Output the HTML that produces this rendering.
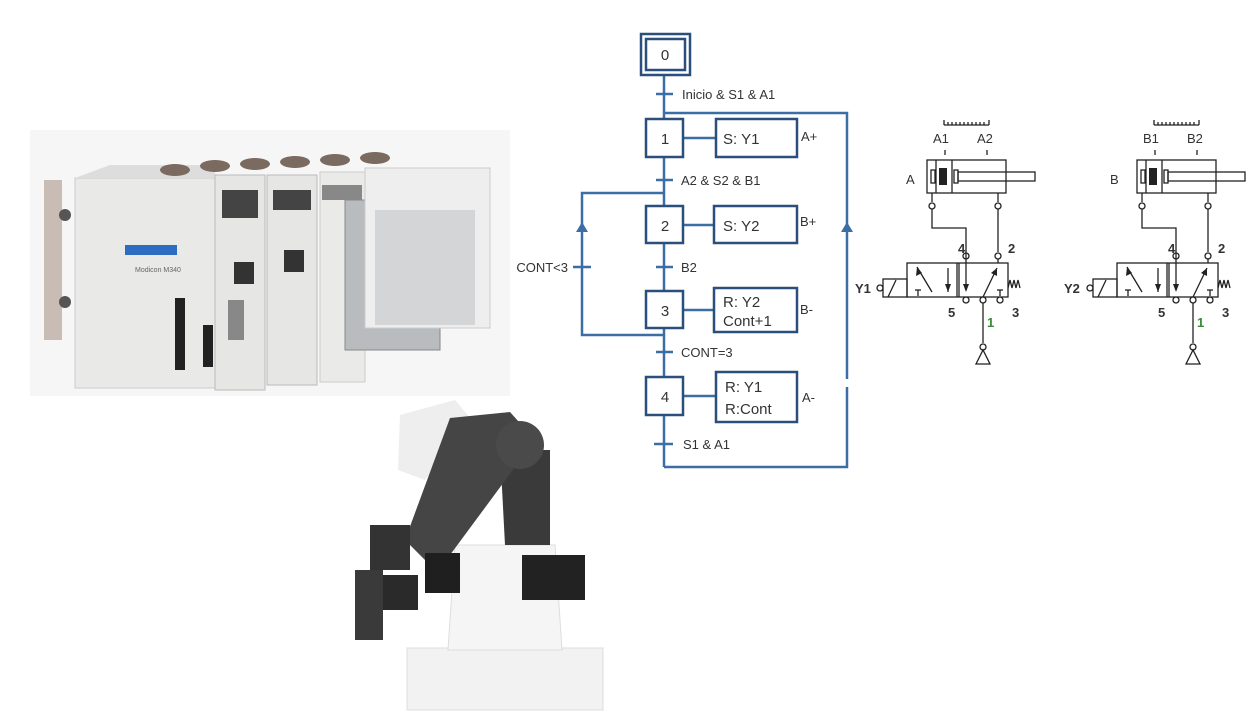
<!DOCTYPE html>
<html><head><meta charset="utf-8"><style>
html,body{margin:0;padding:0;background:#fff;}
svg{display:block;}
text{font-family:"Liberation Sans",sans-serif;}
</style></head><body>
<svg width="1251" height="727" viewBox="0 0 1251 727" xmlns="http://www.w3.org/2000/svg">
<rect width="1251" height="727" fill="#fff"/>
<!-- PLC image -->
<rect x="30" y="130" width="480" height="266" fill="#f6f6f6"/>
<rect x="44" y="180" width="18" height="160" fill="#c9bcb4"/>
<circle cx="65" cy="215" r="6" fill="#555"/><circle cx="65" cy="302" r="6" fill="#555"/>
<rect x="75" y="178" width="140" height="210" fill="#e9e9e7" stroke="#ccc"/>
<polygon points="75,178 110,165 215,165 215,178" fill="#ddd"/>
<rect x="125" y="245" width="52" height="10" fill="#2d6cc0"/>
<text x="135" y="272" font-size="7" fill="#666">Modicon M340</text>
<rect x="175" y="298" width="10" height="72" fill="#222"/>
<rect x="203" y="325" width="10" height="42" fill="#222"/>
<rect x="215" y="175" width="50" height="215" fill="#e6e6e4" stroke="#bbb"/>
<rect x="222" y="190" width="36" height="28" fill="#444"/>
<rect x="234" y="262" width="20" height="22" fill="#333"/>
<rect x="228" y="300" width="16" height="40" fill="#888"/>
<rect x="267" y="175" width="50" height="210" fill="#e6e6e4" stroke="#bbb"/>
<rect x="273" y="190" width="38" height="20" fill="#444"/>
<rect x="284" y="250" width="20" height="22" fill="#333"/>
<rect x="320" y="172" width="45" height="210" fill="#eaeae8" stroke="#ccc"/>
<rect x="322" y="185" width="40" height="15" fill="#888"/>
<rect x="345" y="200" width="95" height="150" fill="#b9bcbf" stroke="#888"/>
<rect x="365" y="168" width="125" height="160" fill="#eeeeee" stroke="#ccc"/>
<rect x="375" y="210" width="100" height="115" fill="#c9cacc" opacity="0.7"/>
<g fill="#7a6a60"><ellipse cx="175" cy="170" rx="15" ry="6"/><ellipse cx="215" cy="166" rx="15" ry="6"/><ellipse cx="255" cy="164" rx="15" ry="6"/><ellipse cx="295" cy="162" rx="15" ry="6"/><ellipse cx="335" cy="160" rx="15" ry="6"/><ellipse cx="375" cy="158" rx="15" ry="6"/></g>
<!-- Robot -->
<rect x="407" y="648" width="196" height="62" fill="#f2f2f2" stroke="#ddd"/>
<polygon points="448,650 455,545 555,545 562,650" fill="#f5f5f5" stroke="#ddd"/>
<polygon points="400,415 455,400 472,420 425,480 398,470" fill="#eeeeee"/>
<polygon points="500,450 550,450 550,545 505,545" fill="#3a3a3a"/>
<polygon points="450,418 510,412 535,440 450,555 425,560 405,540" fill="#454545"/>
<circle cx="520" cy="445" r="24" fill="#4a4a4a"/>
<rect x="425" y="553" width="35" height="40" fill="#1f1f1f"/>
<rect x="522" y="555" width="63" height="45" fill="#222"/>
<rect x="370" y="525" width="40" height="45" fill="#333"/>
<rect x="355" y="570" width="28" height="70" fill="#3a3a3a"/>
<rect x="383" y="575" width="35" height="35" fill="#2a2a2a"/>
<!-- Grafcet -->
<g stroke="#3a6ea5" stroke-width="2.5" fill="none">
<line x1="664" y1="76" x2="664" y2="467"/>
<polyline points="664,113 847,113 847,379"/>
<polyline points="847,387 847,467 664,467"/>
<polyline points="664,193 582,193 582,335 664,335"/>
<line x1="656" y1="94" x2="673" y2="94"/>
<line x1="656" y1="180" x2="673" y2="180"/>
<line x1="656" y1="267" x2="673" y2="267"/>
<line x1="656" y1="352" x2="673" y2="352"/>
<line x1="654" y1="444" x2="673" y2="444"/>
<line x1="573" y1="267" x2="591" y2="267"/>
<line x1="683" y1="138" x2="716" y2="138"/>
<line x1="683" y1="225" x2="714" y2="225"/>
<line x1="683" y1="310" x2="714" y2="310"/>
<line x1="683" y1="396" x2="716" y2="396"/>
</g>
<g fill="#3a6ea5"><polygon points="582,222 576,232 588,232"/><polygon points="847,222 841,232 853,232"/></g>
<g stroke="#2a4f7c" stroke-width="2.5" fill="#fff">
<rect x="641" y="34" width="49" height="41"/>
<rect x="646" y="39" width="39" height="31"/>
<rect x="646" y="119" width="37" height="38"/>
<rect x="716" y="119" width="81" height="38"/>
<rect x="646" y="206" width="37" height="37"/>
<rect x="714" y="206" width="83" height="37"/>
<rect x="646" y="291" width="37" height="37"/>
<rect x="714" y="288" width="83" height="44"/>
<rect x="646" y="377" width="37" height="38"/>
<rect x="716" y="372" width="81" height="50"/>
</g>
<g fill="#333" font-size="15">
<text x="665" y="60" text-anchor="middle">0</text>
<text x="665" y="144" text-anchor="middle">1</text>
<text x="665" y="231" text-anchor="middle">2</text>
<text x="665" y="316" text-anchor="middle">3</text>
<text x="665" y="402" text-anchor="middle">4</text>
<text x="723" y="144">S: Y1</text>
<text x="723" y="231">S: Y2</text>
<text x="723" y="307">R: Y2</text>
<text x="723" y="326">Cont+1</text>
<text x="725" y="392">R: Y1</text>
<text x="725" y="414">R:Cont</text>
</g>
<g fill="#333" font-size="13">
<text x="682" y="99">Inicio &amp; S1 &amp; A1</text>
<text x="681" y="185">A2 &amp; S2 &amp; B1</text>
<text x="681" y="272">B2</text>
<text x="681" y="357">CONT=3</text>
<text x="683" y="449">S1 &amp; A1</text>
<text x="568" y="272" text-anchor="end">CONT&lt;3</text>
<text x="801" y="141">A+</text>
<text x="800" y="226">B+</text>
<text x="800" y="314">B-</text>
<text x="802" y="402">A-</text>
</g>
<!-- Pneumatics -->
<g id="pa">
<g stroke="#222" stroke-width="1.3" fill="none">
<path d="M944,125 h45 M944,120 v5 M989,120 v5"/>
<path d="M948,125 v-3 M952,125 v-3 M956,125 v-3 M960,125 v-3 M964,125 v-3 M968,125 v-3 M972,125 v-3 M976,125 v-3 M980,125 v-3 M984,125 v-3"/>
<line x1="945" y1="150" x2="945" y2="155"/><line x1="987" y1="150" x2="987" y2="155"/>
<rect x="927" y="160" width="79" height="33"/>
<line x1="936" y1="160" x2="936" y2="193"/><line x1="952" y1="160" x2="952" y2="193"/>
<rect x="931" y="170" width="4" height="13"/><rect x="954" y="170" width="4" height="13"/>
<rect x="958" y="172" width="77" height="9"/>
<line x1="932" y1="193" x2="932" y2="202"/><line x1="998" y1="193" x2="998" y2="202"/>
<circle cx="932" cy="206" r="3"/><circle cx="998" cy="206" r="3"/>
<polyline points="932,209 932,228 966,228 966,290"/>
<line x1="998" y1="209" x2="998" y2="252"/>
<circle cx="966" cy="256" r="3"/><circle cx="998" cy="256" r="3"/>
<line x1="998" y1="259" x2="998" y2="263"/>
<rect x="907" y="263" width="101" height="34"/>
<line x1="957" y1="263" x2="957" y2="297"/><line x1="959" y1="263" x2="959" y2="297"/>
<rect x="883" y="279" width="24" height="18"/>
<line x1="888" y1="297" x2="896" y2="280"/>
<circle cx="880" cy="288" r="3"/>
<line x1="917" y1="267" x2="932" y2="292"/>
<line x1="948" y1="268" x2="948" y2="292"/>
<line x1="915" y1="290" x2="921" y2="290"/><line x1="918" y1="290" x2="918" y2="296"/>
<line x1="983" y1="297" x2="997" y2="268"/>
<line x1="997" y1="290" x2="1003" y2="290"/><line x1="1000" y1="290" x2="1000" y2="296"/>
<path d="M1008,288 l2,-8 l2,8 l2,-8 l2,8 l2,-8 l2,8"/>
<circle cx="983" cy="300" r="3"/>
<line x1="983" y1="303" x2="983" y2="343"/>
<circle cx="983" cy="347" r="3"/>
<polygon points="983,350 976,364 990,364"/>
<circle cx="966" cy="300" r="3"/><circle cx="1000" cy="300" r="3"/>
</g>
<g fill="#222"><rect x="939" y="168" width="8" height="17"/>
<polygon points="948,292 945,284 951,284"/><polygon points="966,292 963,284 969,284"/><polygon points="917,267 916,276 922,273"/><polygon points="997,268 991,273 997,276"/></g>
</g>
<use href="#pa" transform="translate(210,0)"/>
<g fill="#333" font-size="13">
<text x="933" y="143">A1</text><text x="977" y="143">A2</text>
<text x="1143" y="143">B1</text><text x="1187" y="143">B2</text>
<text x="906" y="184">A</text><text x="1110" y="184">B</text>
<text x="958" y="253" font-weight="bold">4</text><text x="1008" y="253" font-weight="bold">2</text>
<text x="1168" y="253" font-weight="bold">4</text><text x="1218" y="253" font-weight="bold">2</text>
<text x="948" y="317" font-weight="bold">5</text><text x="1012" y="317" font-weight="bold">3</text>
<text x="1158" y="317" font-weight="bold">5</text><text x="1222" y="317" font-weight="bold">3</text>
<text x="855" y="293" font-weight="bold">Y1</text><text x="1064" y="293" font-weight="bold">Y2</text>
</g>
<g fill="#3a8a3a" font-size="13" font-weight="bold"><text x="987" y="327">1</text><text x="1197" y="327">1</text></g>
</svg>
</body></html>
